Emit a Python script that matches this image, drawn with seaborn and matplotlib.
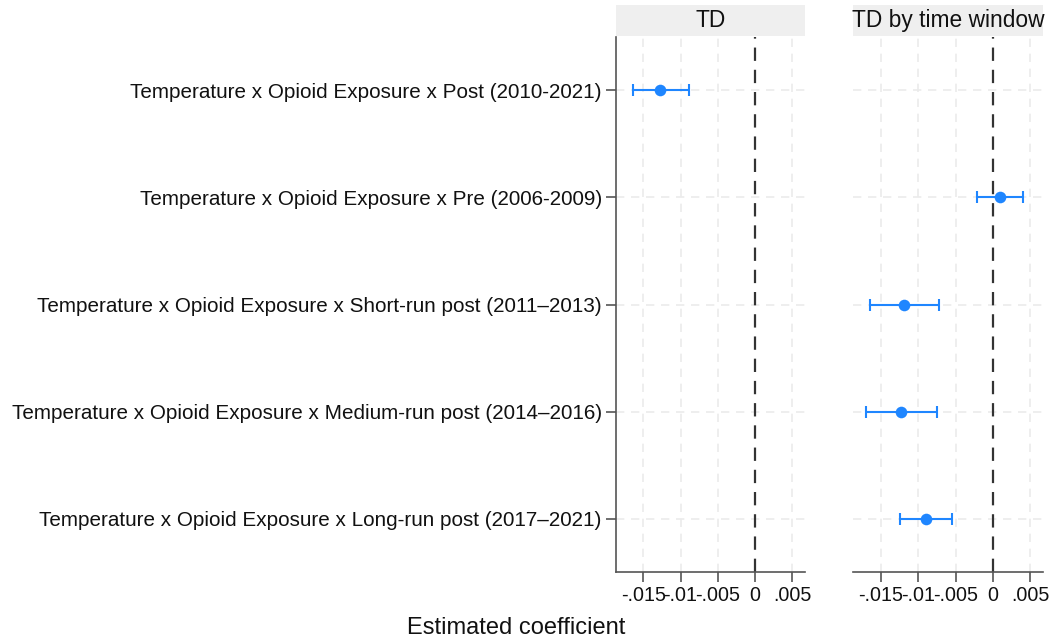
import matplotlib
matplotlib.use("Agg")
import matplotlib.pyplot as plt
from matplotlib.patches import Rectangle
import seaborn as sns
import pandas as pd

categories = [
    "Temperature x Opioid Exposure x Post (2010-2021)",
    "Temperature x Opioid Exposure x Pre (2006-2009)",
    "Temperature x Opioid Exposure x Short-run post (2011\u20132013)",
    "Temperature x Opioid Exposure x Medium-run post (2014\u20132016)",
    "Temperature x Opioid Exposure x Long-run post (2017\u20132021)",
]
panels = ["TD", "TD by time window"]

# panel 1: TD
td_terms = [categories[0]]
td_est = [-0.01276]
td_lo = [-0.01642]
td_hi = [-0.0089]

# panel 2: TD by time window
tw_terms = categories[1:]
tw_est = [0.00099, -0.01185, -0.01226, -0.00901]
tw_lo = [-0.00212, -0.01649, -0.01703, -0.01249]
tw_hi = [0.0041, -0.00716, -0.00743, -0.0055]

xticks = [-0.015, -0.01, -0.005, 0, 0.005]
xticklabels = ["-.015", "-.01", "-.005", "0", ".005"]

sns.set_theme(style="white")
plt.rcParams["font.family"] = ["Liberation Sans", "DejaVu Sans"]

fig = plt.figure(figsize=(10.53, 6.42), dpi=100)
ax1 = fig.add_axes([0.5847, 0.109, 0.1798, 0.8334])
ax2 = fig.add_axes([0.8104, 0.109, 0.1799, 0.8334])

color = "#1f86ff"
pos = {c: i for i, c in enumerate(categories)}

data = [
    (ax1, td_terms, td_est, td_lo, td_hi),
    (ax2, tw_terms, tw_est, tw_lo, tw_hi),
]
for k, (ax, terms, est, lo, hi) in enumerate(data):
    df = pd.DataFrame({"term": terms, "est": est, "lo": lo, "hi": hi})
    df["y"] = df["term"].map(pos)
    # grid
    for xt in xticks:
        if xt == 0:
            continue
        ax.axvline(xt, color="#ebebeb", lw=1.2, ls=(0, (5, 4)), zorder=0)
    for i in range(len(categories)):
        ax.axhline(i, color="#ebebeb", lw=1.2, ls=(0, (5, 4)), zorder=0)
    ax.axvline(0, color="#333333", lw=1.6, ls=(0, (6, 4)), zorder=1)
    ax.errorbar(df["est"], df["y"], xerr=[df["est"] - df["lo"], df["hi"] - df["est"]],
                fmt="none", ecolor=color, elinewidth=1.5, capsize=4, capthick=1.5, zorder=2)
    sns.scatterplot(data=df, x="est", y="y", ax=ax, color=color, s=70,
                    edgecolor=color, linewidth=0, zorder=3, legend=False)
    ax.set_xlim(-0.0187, 0.0067)
    ax.set_ylim(len(categories) - 0.5, -0.5)
    ax.set_xticks(xticks)
    ax.set_xticklabels(xticklabels, fontsize=14.2)
    ax.tick_params(axis="x", bottom=True, length=7, width=1.2, color="#555555", pad=3,
                   labelcolor="#111111")
    ax.set_xlabel("")
    ax.set_ylabel("")
    for s in ["top", "right"]:
        ax.spines[s].set_visible(False)
    ax.spines["bottom"].set_color("#555555")
    ax.spines["bottom"].set_linewidth(1.2)
    if k == 0:
        ax.set_yticks(range(len(categories)))
        ax.set_yticklabels(categories, fontsize=14.9)
        ax.tick_params(axis="y", left=True, length=7, width=1.2, color="#555555", pad=3,
                       labelcolor="#111111")
        ax.spines["left"].set_color("#555555")
        ax.spines["left"].set_linewidth(1.2)
    else:
        ax.set_yticks([])
        ax.spines["left"].set_visible(False)
    ax.add_patch(Rectangle((0, 1.002), 1, 0.058, transform=ax.transAxes,
                           facecolor="#efefef", edgecolor="none", clip_on=False))
    ax.text(0.5, 1.031, panels[k], transform=ax.transAxes, ha="center", va="center",
            fontsize=16.4, color="#111111")

fig.text(0.49, 0.022, "Estimated coefficient", ha="center", va="center",
         fontsize=17, color="#111111")

fig.savefig("out.png", dpi=100, facecolor="white")
